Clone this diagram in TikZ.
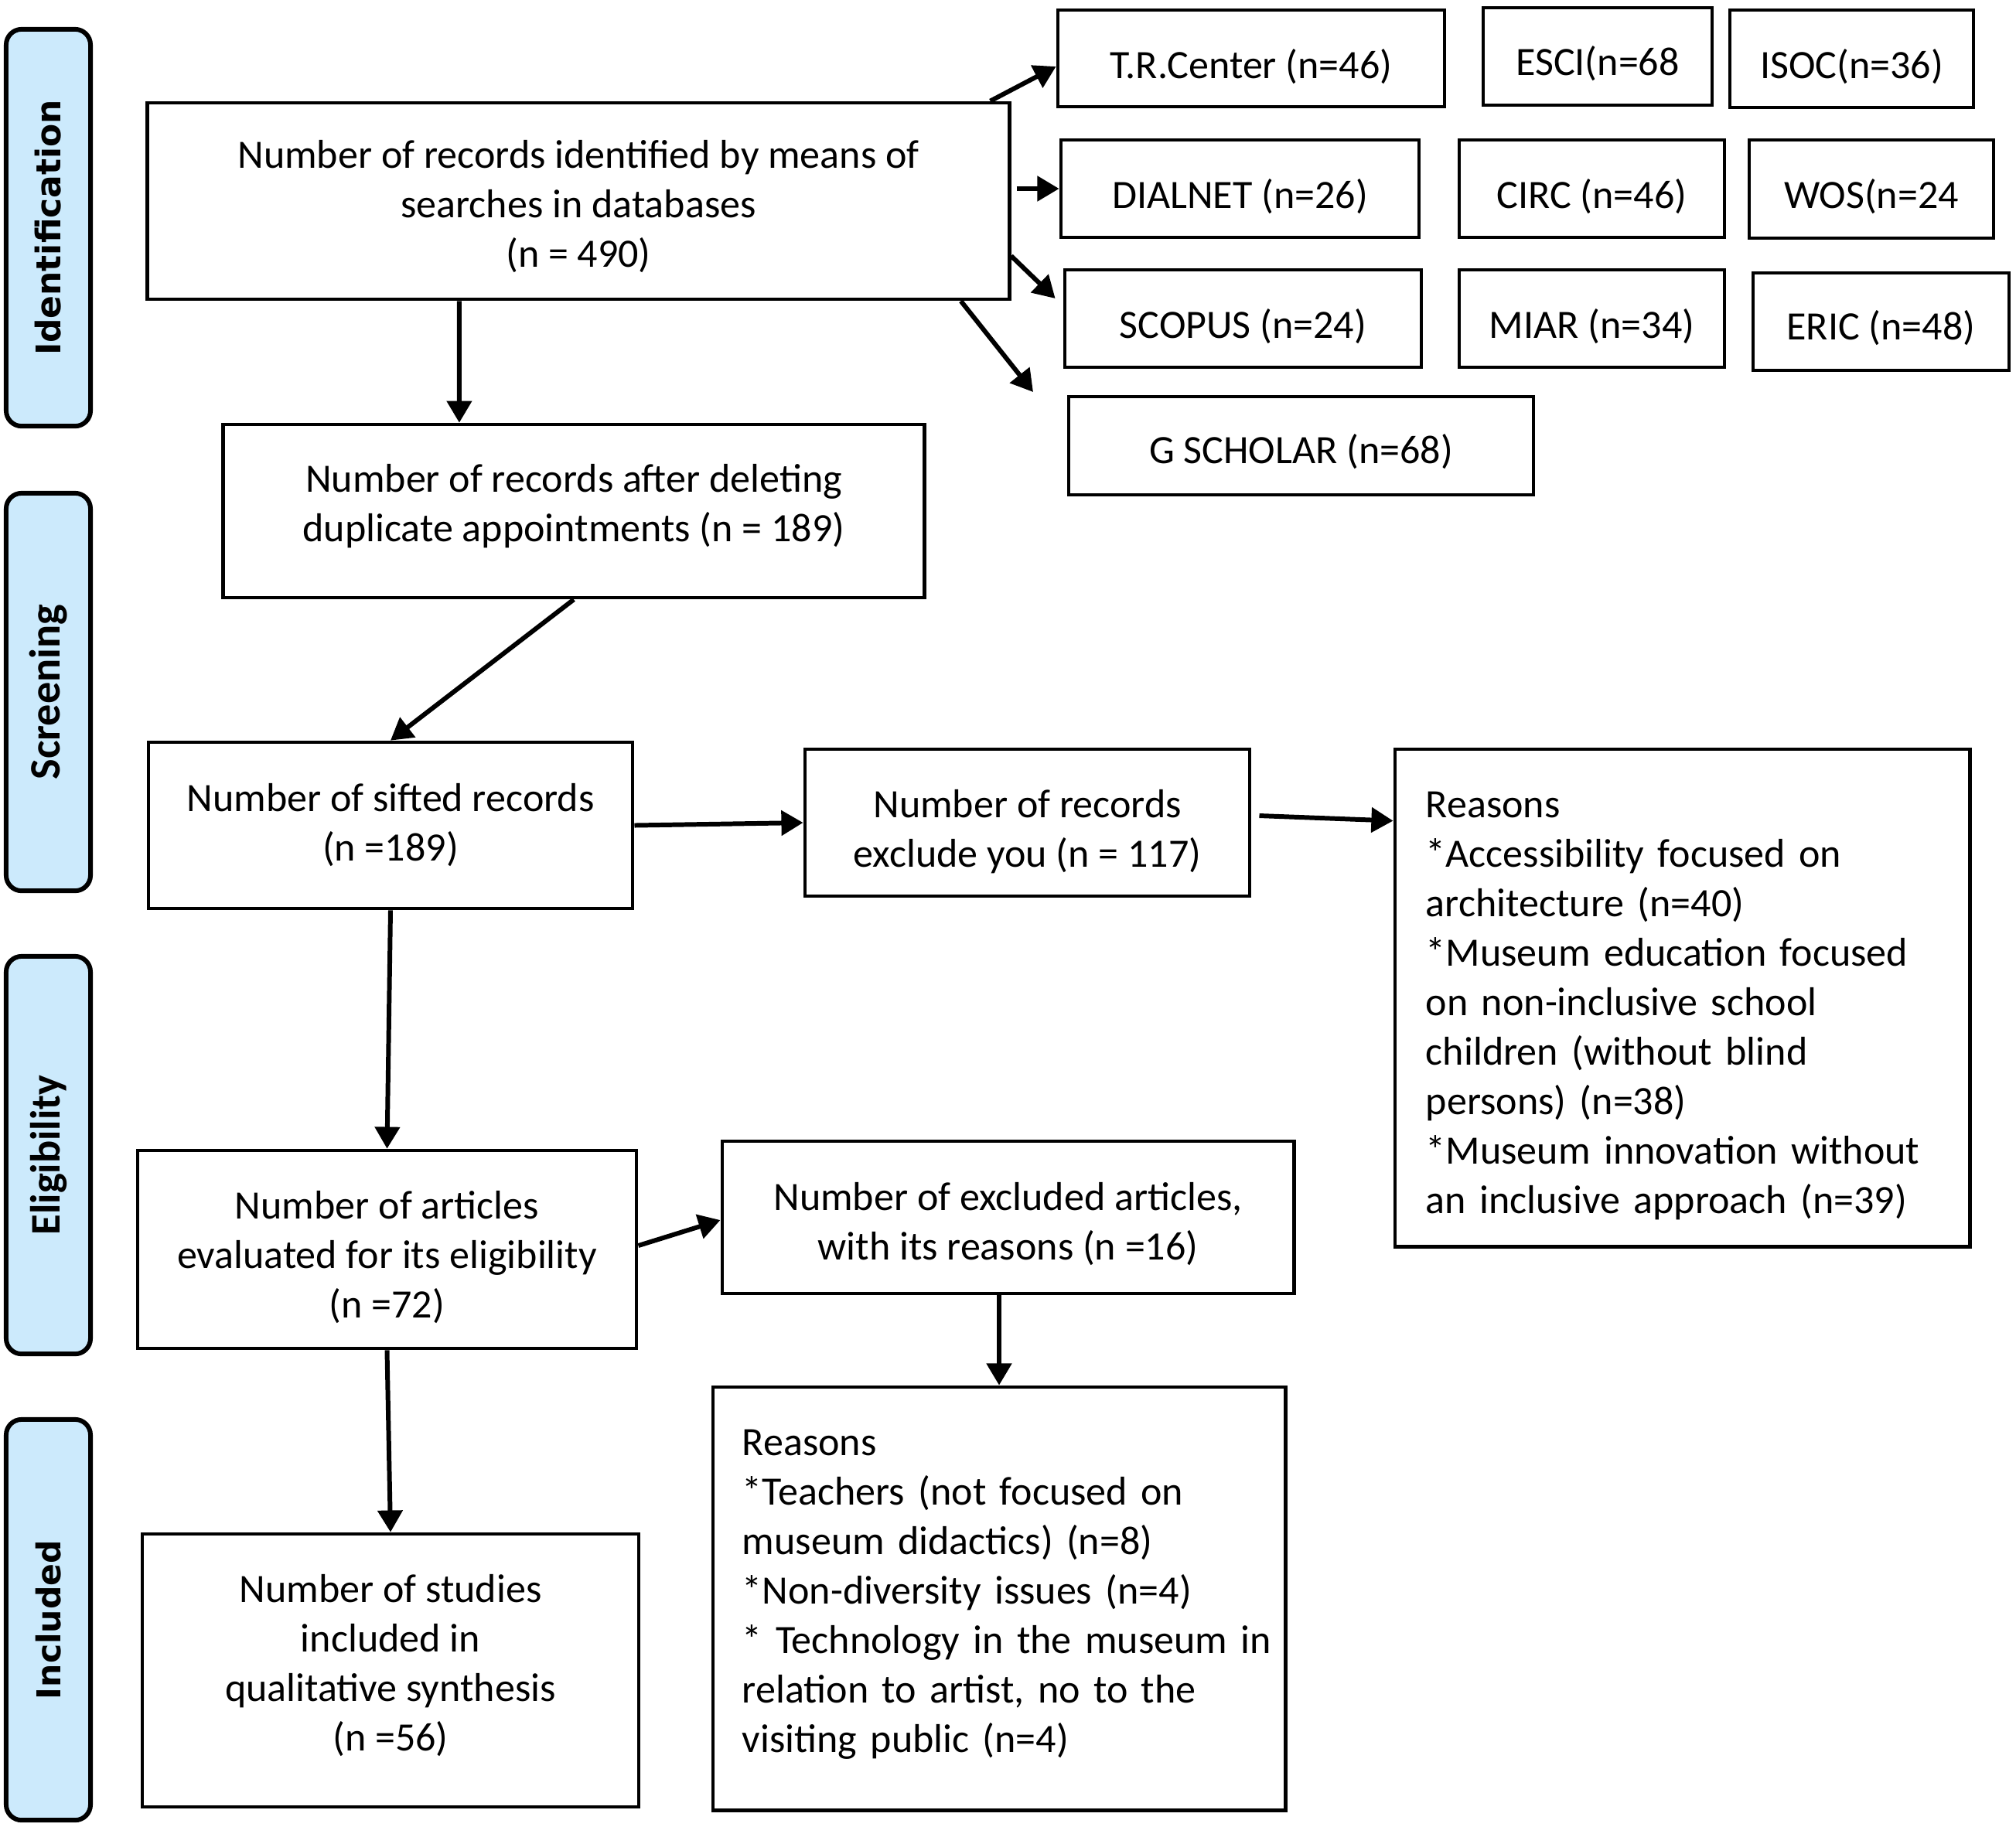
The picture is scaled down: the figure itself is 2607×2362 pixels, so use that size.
\documentclass[tikz,border=0pt]{standalone}
\usepackage{fontspec}
\setmainfont{Carlito}
\newfontfamily\dvsans{DejaVu Sans}
\usetikzlibrary{arrows.meta}
\definecolor{sidefill}{RGB}{204,234,252}
% #1 text style, #2 name, #3 cx, #4 cy, #5 width (cm), #6 height (cm), #7 text shift (px, down), #8 text
\newcommand\tbox[8][ctr]{%
  \node[frame, minimum width=#5cm, minimum height=#6cm] (#2) at (#3,#4) {};
  \node[#1] (#2t) at (#3,{#4+(#7)}) {#8};}
\begin{document}
\begin{tikzpicture}[x=0.01cm,y=-0.01cm,
  frame/.style={draw=black, line width=1.3pt, inner sep=0pt},
  ctr/.style={align=center, inner sep=0pt, font=\fontsize{14.8}{18.2}\selectfont},
  lft/.style={align=left, inner sep=0pt, font=\fontsize{14.8}{18.2}\selectfont},
  side/.style={draw=black, line width=1.7pt, fill=sidefill, rounded corners=0.2cm,
    rotate=90, minimum height=1.09cm, inner sep=0pt},
  sidewide/.style={side, font=\dvsans\bfseries\fontsize{12.4}{14}\selectfont},
  sidenarrow/.style={side, font=\bfseries\fontsize{15.5}{18}\selectfont},
  arr/.style={line width=1.7pt, -{Triangle[length=8pt,width=9pt]}},
]
\useasboundingbox (0,0) rectangle (2607,2362);

% side labels
\node[sidewide, minimum width=5.13cm, font=\dvsans\bfseries\fontsize{12.5}{14}\selectfont] (sIdent) at (62.5,294.5) {Identification};
\node[sidenarrow, minimum width=5.14cm, font=\bfseries\fontsize{16}{18}\selectfont] (sScreen) at (62.5,895) {Screening};
\node[sidenarrow, minimum width=5.14cm] (sElig) at (62.5,1494) {Eligibility};
\node[sidewide, minimum width=5.18cm, font=\dvsans\bfseries\fontsize{12.1}{14}\selectfont] (sIncl) at (62.5,2095) {Included};

% main boxes
\tbox{ident}{748}{260}{11.14}{2.54}{7}
  {Number of records identified by means of\\searches in databases\\(n = 490)}
\tbox{dup}{742}{661}{9.06}{2.24}{-6}
  {Number of records after deleting\\duplicate appointments (n = 189)}
\tbox{sift}{505}{1067.5}{6.26}{2.15}{0}
  {Number of sifted records\\(n =189)}
\tbox{excl}{1328.5}{1064}{5.75}{1.90}{12}
  {Number of records\\exclude you (n = 117)}
\tbox[lft, text width=7.0cm, xshift=0.185cm]{reas1}{2175.5}{1290.5}{7.43}{6.43}{10}
  {Reasons\\{}*Accessibility focused on\\architecture (n=40)\\{}*Museum education focused\\on non-inclusive school\\children (without blind\\persons) (n=38)\\{}*Museum innovation without\\an inclusive approach (n=39)}
\tbox{art}{500.5}{1616}{6.45}{2.56}{10}
  {Number of articles\\evaluated for its eligibility\\(n =72)}
\tbox{excl2}{1303.5}{1574.5}{7.39}{1.97}{8}
  {Number of excluded articles,\\with its reasons (n =16)}
\tbox[lft, text width=7.2cm, xshift=0.28cm]{reas2}{1292}{2067.5}{7.40}{5.47}{-5}
  {Reasons\\{}*Teachers (not focused on\\museum didactics) (n=8)\\{}*Non-diversity issues (n=4)\\{}* Technology in the museum in\\relation to artist, no to the\\visiting public (n=4)}
\tbox{incl}{505}{2160.5}{6.42}{3.53}{-7}
  {Number of studies\\included in\\qualitative synthesis\\(n =56)}

% database boxes
\tbox{trc}{1618}{75.5}{5.00}{1.25}{11}{T.R.Center (n=46)}
\tbox{esci}{2066}{73}{2.96}{1.26}{9}{ESCI(n=68}
\tbox{isoc}{2394.5}{76}{3.15}{1.26}{10}{ISOC(n=36)}
\tbox{dial}{1603.5}{244}{4.63}{1.26}{10}{DIALNET (n=26)}
\tbox{circ}{2058.5}{244}{3.43}{1.26}{10}{CIRC (n=46)}
\tbox{wos}{2420}{244.5}{3.16}{1.27}{10}{WOS(n=24}
\tbox{scop}{1607.5}{412}{4.61}{1.26}{10}{SCOPUS (n=24)}
\tbox{miar}{2058.5}{412}{3.43}{1.26}{10}{MIAR (n=34)}
\tbox{eric}{2432.5}{416}{3.31}{1.26}{8}{ERIC (n=48)}
\tbox{gsch}{1682.5}{576.5}{6.01}{1.27}{8}{G SCHOLAR (n=68)}

\coordinate (gend) at (1336,507);

% connectors
\draw[arr] ([xshift=-0.27cm]ident.north east) -- ([yshift=-0.105cm]trc.west);
\draw[arr] ([xshift=0.07cm]ident.east |- dial.west) -- (dial.west);
\draw[arr] ([yshift=-0.71cm]ident.east) -- ([xshift=-0.1cm,yshift=0.26cm]scop.west);
\draw[arr] ([xshift=-0.65cm]ident.south east) -- (gend);
\draw[arr] ([xshift=-1.54cm]ident.south) -- ([xshift=-1.48cm]dup.north);
\draw[arr] (dup.south) -- (sift.north);
\draw[arr] (sift.east) -- (excl.west);
\draw[arr] ([xshift=0.1cm,yshift=0.09cm]excl.east) -- ([yshift=-0.95cm]reas1.north west);
\draw[arr] (sift.south) -- (art.north);
\draw[arr] ([yshift=0.05cm]art.east) -- ([yshift=-0.035cm]excl2.west);
\draw[arr] (reas2.north |- excl2.south) -- (reas2.north);
\draw[arr] (art.south) -- (incl.north);
\end{tikzpicture}
\end{document}
